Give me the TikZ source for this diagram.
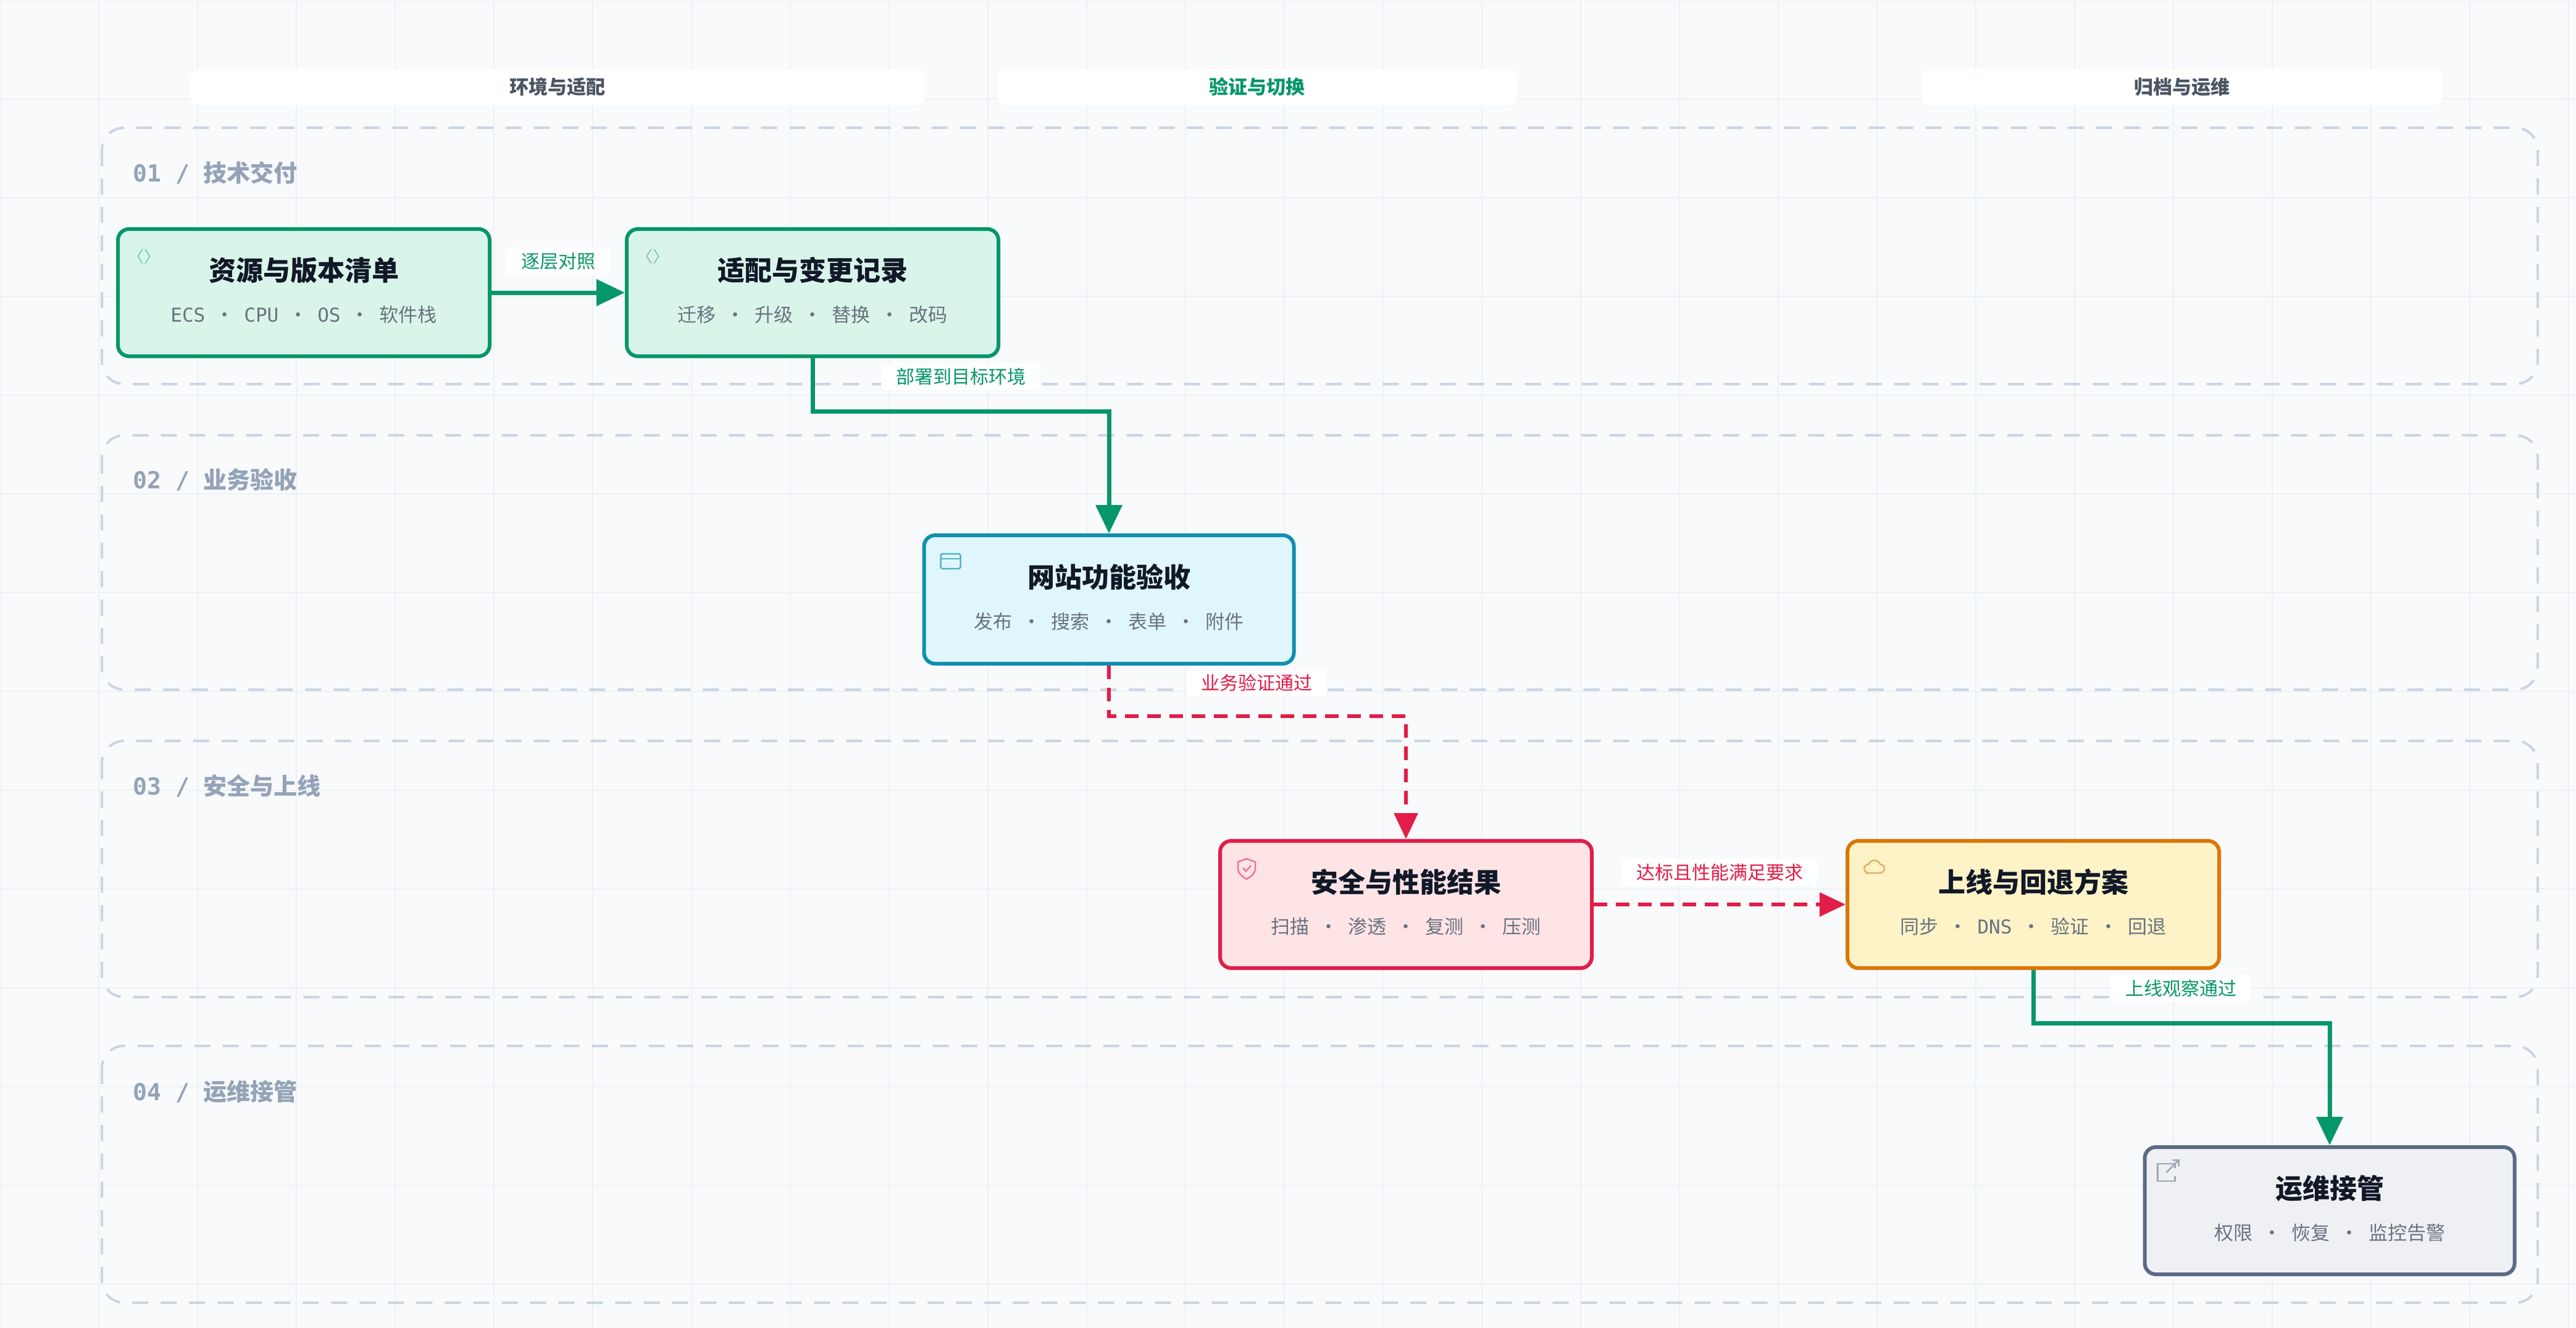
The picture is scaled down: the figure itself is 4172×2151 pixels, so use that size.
\documentclass[tikz,border=0pt]{standalone}
\usepackage{fontspec}
\setmainfont{Noto Sans CJK SC}
\newfontfamily\monof{DejaVu Sans Mono}
\usetikzlibrary{arrows.meta,calc}
\newcommand{\dt}{\hspace{16pt}·\hspace{16pt}}
\definecolor{bg}{HTML}{F8FAFC}
\definecolor{gridc}{HTML}{EDF1F5}
\definecolor{lanec}{HTML}{CBD5E1}
\definecolor{lanetx}{HTML}{94A3B8}
\definecolor{hdtx}{HTML}{4B5563}
\definecolor{gbd}{HTML}{059669}\definecolor{gfl}{HTML}{D9F5EA}
\definecolor{cbd}{HTML}{0E8FB0}\definecolor{cfl}{HTML}{DFF7FC}
\definecolor{rbd}{HTML}{E11D48}\definecolor{rfl}{HTML}{FFE4E6}
\definecolor{obd}{HTML}{D97706}\definecolor{ofl}{HTML}{FEF3C7}
\definecolor{sbd}{HTML}{5A6B85}\definecolor{sfl}{HTML}{EEF0F3}
\definecolor{ttx}{HTML}{111827}\definecolor{stx}{HTML}{6B7280}
\begin{document}
\begin{tikzpicture}[x=1pt,y=-1pt,
  box/.style={rectangle,rounded corners=18pt,line width=6pt,minimum width=602pt,minimum height=206pt},
  ttl/.style={font=\fontsize{44}{50}\selectfont\bfseries,text=ttx},
  sub/.style={font=\fontsize{31}{36}\selectfont,text=stx},
  lane/.style={draw=lanec,line width=4pt,dash pattern=on 26pt off 20pt,rounded corners=36pt},
  lanel/.style={font=\fontsize{38}{44}\selectfont\bfseries,text=lanetx,anchor=west},
  hdr/.style={fill=white,rounded corners=14pt,font=\fontsize{31}{36}\selectfont\bfseries,text=hdtx},
  elab/.style={fill=white,rounded corners=8pt,font=\fontsize{30}{34}\selectfont,inner xsep=24pt,inner ysep=8pt},
  gedge/.style={draw=gbd,line width=7pt,-{Triangle[length=46pt,width=42pt]}},
  redge/.style={draw=rbd,line width=6pt,dash pattern=on 22pt off 14pt,-{Triangle[length=42pt,width=38pt]}}]
\fill[bg] (0,0) rectangle (4172,2151);
\useasboundingbox (0,0) rectangle (4172,2151);
\foreach \i in {0,160,...,4172} \draw[gridc,line width=2pt] (\i,0) -- (\i,2151);
\foreach \i in {0,160,...,2151} \draw[gridc,line width=2pt] (0,\i) -- (4172,\i);
% headers
\node[hdr,minimum width=1189pt,minimum height=58pt] (h1) at (903,141) {环境与适配};
\node[hdr,minimum width=843pt,minimum height=58pt,text=gbd] (h2) at (2036,141) {验证与切换};
\node[hdr,minimum width=844pt,minimum height=58pt] (h3) at (3534,141) {归档与运维};
% lanes
\draw[lane] (165,207) rectangle (4110,622);
\draw[lane] (165,705) rectangle (4110,1117);
\draw[lane] (165,1200) rectangle (4110,1615);
\draw[lane] (165,1694) rectangle (4110,2110);
\node[lanel] (l1) at (212,280) {{\monof 01 / }技术交付};
\node[lanel] (l2) at (212,777) {{\monof 02 / }业务验收};
\node[lanel] (l3) at (212,1273) {{\monof 03 / }安全与上线};
\node[lanel] (l4) at (212,1768) {{\monof 04 / }运维接管};
% nodes
\node[box,draw=gbd,fill=gfl] (A) at (492,474) {};
\node[box,draw=gbd,fill=gfl] (B) at (1316,474) {};
\node[box,draw=cbd,fill=cfl,minimum width=599pt,minimum height=208pt] (C) at (1796,971) {};
\node[box,draw=rbd,fill=rfl] (D) at (2277,1465) {};
\node[box,draw=obd,fill=ofl] (E) at (3293,1465) {};
\node[box,draw=sbd,fill=sfl,minimum width=599pt] (F) at (3773,1961) {};
\foreach \n/\t/\s in {A/资源与版本清单/{\monof ECS}\dt{\monof CPU}\dt{\monof OS}\dt 软件栈,
  B/适配与变更记录/迁移\dt 升级\dt 替换\dt 改码,
  C/网站功能验收/发布\dt 搜索\dt 表单\dt 附件,
  D/安全与性能结果/扫描\dt 渗透\dt 复测\dt 压测,
  E/上线与回退方案/同步\dt{\monof DNS}\dt 验证\dt 回退,
  F/运维接管/权限\dt 恢复\dt 监控告警}{
  \node[ttl] (\n t) at ($(\n.center)+(0,-36)$) {\t};
  \node[sub] (\n s) at ($(\n.center)+(0,36)$) {\s};
}
% icons
\node[text=gbd!55,font=\fontsize{26}{28}\selectfont] (iA) at ($(A.north west)+(45,48)$) {〈〉};
\node[text=gbd!55,font=\fontsize{26}{28}\selectfont] (iB) at ($(B.north west)+(45,48)$) {〈〉};
\draw[cbd!70,line width=2.5pt,rounded corners=3pt] ($(C.north west)+(30,33)$) rectangle ++(32,24);
\draw[cbd!70,line width=2.5pt] ($(C.north west)+(30,41)$) -- ++(32,0);
\draw[rbd!60,line width=2.5pt] ($(D.north west)+(46,32)$) -- ++(14,5) -- ++(0,10) .. controls ++(0,10) and ++(6,-4) .. ++(-14,18) .. controls ++(-6,-4) and ++(0,10) .. ++(-14,-18) -- ++(0,-10) -- cycle;
\draw[rbd!60,line width=2.5pt] ($(D.north west)+(40,47)$) -- ++(5,5) -- ++(8,-9);
\draw[obd!60,line width=2.5pt] ($(E.north west)+(32,55)$) -- ++(24,0) arc (90:-90:7) arc (-20:-160:10) arc (-90:-270:7) -- cycle;
\draw[sbd!60,line width=2.5pt] ($(F.north west)+(52,37)$) -- ++(0,-7) -- ++(-28,0) -- ++(0,28) -- ++(28,0) -- ++(0,-8);
\draw[sbd!60,line width=2.5pt] ($(F.north west)+(38,44)$) -- ++(20,-20) ++(-10,0) -- ++(10,0) -- ++(0,10);
% edges
\draw[gedge] (A.east) -- (B.west);
\draw[gedge] (B.south) -- ++(0,86) -| (C.north);
\draw[redge] (C.south) -- ++(0,82) -| (D.north);
\draw[redge] (D.east) -- (E.west);
\draw[gedge] (E.south) -- ++(0,86) -| (F.north);
\node[elab,text=gbd] (e1) at (904,423) {逐层对照};
\node[elab,text=gbd] (e2) at (1556,610) {部署到目标环境};
\node[elab,text=rbd] (e3) at (2035,1106) {业务验证通过};
\node[elab,text=rbd] (e4) at (2785,1413) {达标且性能满足要求};
\node[elab,text=gbd] (e5) at (3532,1601) {上线观察通过};
\end{tikzpicture}
\end{document}
